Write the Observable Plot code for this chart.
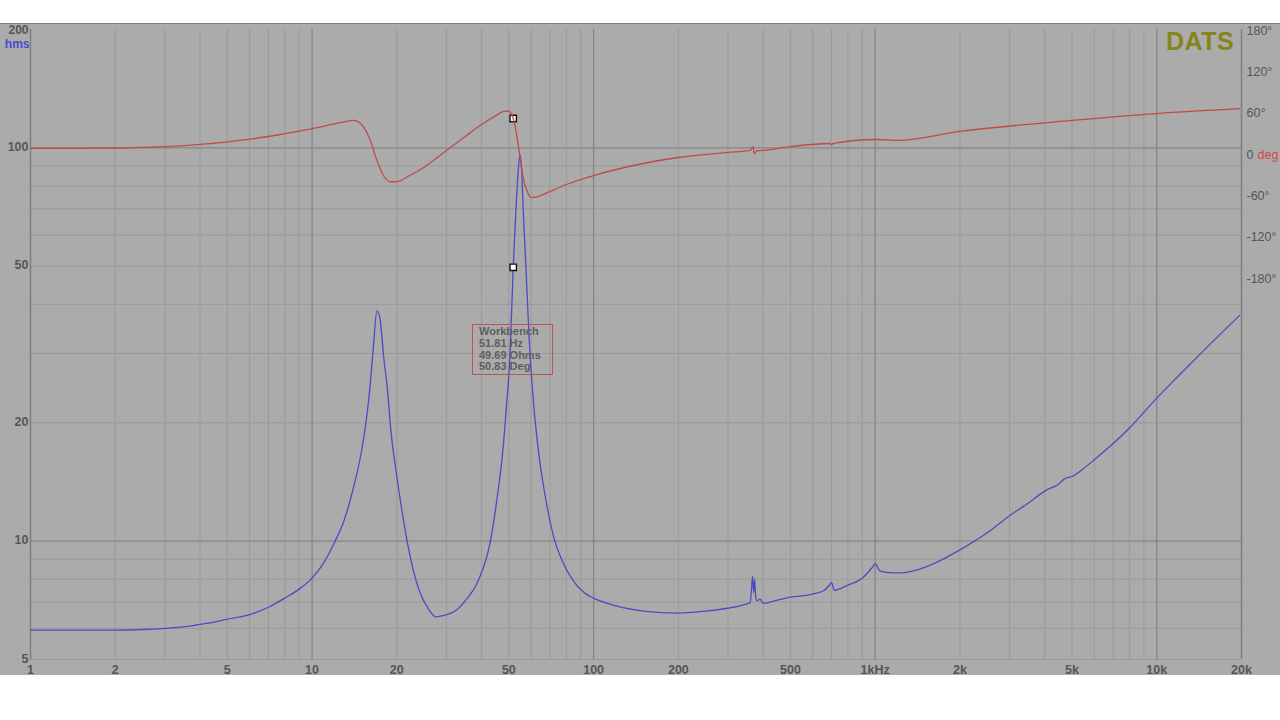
<!DOCTYPE html>
<html>
<head>
<meta charset="utf-8">
<script src="https://cdn.jsdelivr.net/npm/d3@7"></script>
<script src="https://cdn.jsdelivr.net/npm/@observablehq/plot@0.6"></script>
<style>
  html, body { margin: 0; padding: 0; background: #ffffff; }
  #wrap { position: relative; width: 1280px; height: 720px; overflow: hidden; font-family: "Liberation Sans", Arial, sans-serif; }
  #bg { position: absolute; left: 0; top: 23px; width: 1280px; height: 652px; background: #ababab; border-top: 1.5px solid #7c7c7c; box-sizing: border-box; }
  .layer { position: absolute; left: 0; top: 0; }
  #dats { position: absolute; left: 1166px; top: 27px; font: bold 25px "Liberation Sans", Arial, sans-serif; color: #85851a; letter-spacing: 0.5px; }
  #tip { position: absolute; left: 472px; top: 324px; width: 81px; height: 51px; box-sizing: border-box; border: 1.5px solid #c45050; padding: 1px 0 0 6px; font: bold 11px "Liberation Sans", Arial, sans-serif; line-height: 11.8px; color: #5e5e5e; }
</style>
</head>
<body>
<div id="wrap">
  <div id="bg"></div>
  <div id="imp" class="layer"></div>
  <div id="ph" class="layer"></div>
  <div id="dats">DATS</div>
  <div id="tip">Workbench<br>51.81 Hz<br>49.69 Ohms<br>50.83 Deg</div>
</div>
<script>
// ---- Impedance magnitude (Ohms) vs frequency (Hz)
const freqZ = [1,1.5,2,2.5,3,3.5,4,4.5,5,6,7,8,9,10,11,12,13,14,15,15.5,16,16.5,17,17.4,18,18.5,19,20,21,22,24,26,27.5,30,32,35,39,43,45.3,47.6,49.2,50.5,51.81,53,54,54.7,55.5,56.3,57.5,59,61,64,68,72,78,85,95,100,120,150,200,250,300,340,360,364,367,370,373,376,380,390,400,450,500,600,660,690,700,715,800,900,980,1000,1040,1100,1200,1400,1600,2000,2500,3000,3500,4000,4500,4700,5000,5500,6000,8000,10000,12000,15000,19700];
const ohms  = [5.94,5.94,5.94,5.96,6.0,6.05,6.14,6.22,6.33,6.5,6.79,7.16,7.55,8.05,8.8,9.9,11.3,13.6,17.0,19.8,24,31,38.5,37,29,24.5,19.5,14.6,11.6,9.6,7.5,6.7,6.42,6.5,6.62,7.05,7.96,10,12.7,17,22.8,30,49.69,70,88,96,88,68,49.7,33,23,16.5,12.5,10.3,8.8,7.9,7.3,7.16,6.84,6.64,6.56,6.64,6.75,6.88,6.98,7.6,8.15,7.4,8.0,7.3,7.05,7.12,6.95,7.08,7.2,7.33,7.5,7.75,7.85,7.5,7.73,8.05,8.6,8.75,8.4,8.33,8.3,8.44,8.74,9.5,10.5,11.6,12.5,13.4,14.0,14.4,14.6,15.3,16.1,19.4,23.1,26.4,31.0,37.5];

// ---- Impedance phase (deg) vs frequency (Hz)
const freqP = [1,2,3,5,7,10,12,13,14,14.6,15,16,17,18,19,20,22,25,30,35,40,45,48,50,51.81,53,54,55,56,58,60,63,70,80,100,150,200,300,360,368,372,380,400,500,690,700,710,1000,1200,2000,5000,10000,19700];
const phase = [7.3,8,10,17,24.7,36,43,46,48,46,42,22,-10,-33,-41,-41,-33,-20,4.4,24.7,42,55,61,61.5,50.83,33,12,-10,-32,-54,-64,-63,-55,-45,-32,-14.5,-5.8,1.5,4.4,10,0,4,4.6,10,14.5,12.5,14.8,20.3,19,32,48,58,65];

// ---- Cursor (Workbench marker)
const cursorFreq = [51.81];
const cursorOhms = [49.69];
const cursorDeg  = [50.83];

// ---- Axes / ticks
const xTicks = [1,2,5,10,20,50,100,200,500,1000,2000,5000,10000,20000];
const xTickLabels = ["1","2","5","10","20","50","100","200","500","1kHz","2k","5k","10k","20k"];
const decadeLines = [10,100,1000,10000];
const minorFreqLines = [];
for (const d of [1,10,100,1000]) for (const m of [2,3,4,5,6,7,8,9]) minorFreqLines.push(d*m);
const yTicks = [5,10,20,50,100];
const yTopTick = [200];
const ohmMajorLines = [10,100];
const ohmMinorLines = [5,6,7,8,9,20,30,40,50,60,70,80,90];
const degTicks = [180,120,60,-60,-120,-180];

const W = 1280, H = 675;
const common = {
  width: W, height: H,
  marginLeft: 30, marginRight: 39, marginTop: 29, marginBottom: 16,
  style: {background: "transparent", overflow: "visible", fontFamily: "'Liberation Sans', Arial, sans-serif"}
};
const labelStyle = {fontSize: 12.5, fontWeight: "bold", fill: "#555555"};

const imp = Plot.plot({
  ...common,
  x: {type: "log", domain: [1, 20000], axis: null},
  y: {type: "log", domain: [5, 200], axis: null},
  marks: [
    Plot.ruleY(ohmMinorLines, {stroke: "#9a9a9a", strokeWidth: 1}),
    Plot.ruleX(minorFreqLines, {stroke: "#9a9a9a", strokeWidth: 1}),
    Plot.ruleY(ohmMajorLines, {stroke: "#868686", strokeWidth: 1.3}),
    Plot.ruleX(decadeLines, {stroke: "#868686", strokeWidth: 1.3}),
    Plot.ruleX([1, 20000], {stroke: "#7e7e7e", strokeWidth: 1.5}),
    // x tick labels
    Plot.text(xTicks, {x: d => d, text: (d, i) => xTickLabels[i], frameAnchor: "bottom", lineAnchor: "middle", dy: 10, ...labelStyle}),
    // y tick labels
    Plot.text(yTicks, {y: d => d, text: d => String(d), frameAnchor: "left", textAnchor: "end", dx: -2, dy: -1, ...labelStyle}),
    Plot.text(yTopTick, {y: d => d, text: d => String(d), frameAnchor: "left", textAnchor: "end", dx: -2, dy: 1, fontSize: 12, fontWeight: "bold", fill: "#555555"}),
    Plot.text(["hms"], {frameAnchor: "top-left", lineAnchor: "middle", dx: -1, dy: 14.5, textAnchor: "end", fontSize: 12, fontWeight: "bold", fill: "#4a4acc"}),
    Plot.line(freqZ.map((f, i) => [f, ohms[i]]), {x: d => d[0], y: d => d[1], stroke: "#4b4bc6", strokeWidth: 1.3, curve: "monotone-x"}),
    Plot.dot(cursorFreq.map((f, i) => [f, cursorOhms[i]]), {x: d => d[0], y: d => d[1], symbol: "square", r: 3.6, fill: "white", stroke: "#111", strokeWidth: 1.4})
  ]
});
document.getElementById("imp").appendChild(imp);

const ph = Plot.plot({
  ...common,
  x: {type: "log", domain: [1, 20000], axis: null},
  y: {type: "linear", domain: [-734.5, 180], axis: null},
  marks: [
    Plot.text(degTicks, {y: d => d, text: d => d + "°", frameAnchor: "right", textAnchor: "start", dx: 5, dy: 1, fontSize: 12.5, fill: "#555555"}),
    Plot.text([0], {y: d => d, text: () => "0", frameAnchor: "right", textAnchor: "start", dx: 5, dy: 1, fontSize: 12.5, fill: "#555555"}),
    Plot.text([0], {y: d => d, text: () => "deg", frameAnchor: "right", textAnchor: "start", dx: 16, dy: 1, fontSize: 12.5, fill: "#d04848"}),
    Plot.dot(cursorFreq.map((f, i) => [f, cursorDeg[i]]), {x: d => d[0], y: d => d[1], symbol: "square", r: 3.6, fill: "white", stroke: "#111", strokeWidth: 1.4}),
    Plot.line(freqP.map((f, i) => [f, phase[i]]), {x: d => d[0], y: d => d[1], stroke: "#c04a4a", strokeWidth: 1.3, curve: "monotone-x"})
  ]
});
document.getElementById("ph").appendChild(ph);
</script>
</body>
</html>
